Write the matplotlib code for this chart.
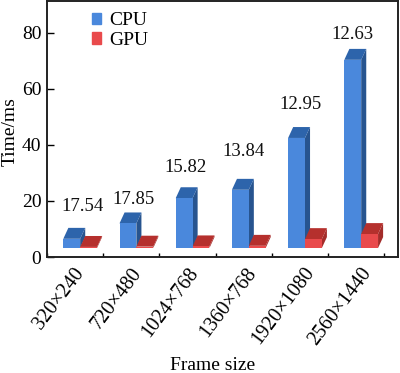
import matplotlib
matplotlib.use("Agg")
import matplotlib.pyplot as plt
from matplotlib.patches import Polygon, Patch

plt.rcParams['font.family'] = ['Liberation Serif', 'DejaVu Serif']

frames = ['320×240', '720×480', '1024×768', '1360×768', '1920×1080', '2560×1440']
cpu = [6.5, 12, 21, 24, 42.5, 70.4]
gpu = [3.6, 3.7, 3.8, 4.0, 6.4, 8.2]
ratios = ['17.54', '17.85', '15.82', '13.84', '12.95', '12.63']

# label places
label_y = [17.9, 20.4, 31.8, 37.5, 54.3, 79.3]
label_dx = [0.036, -0.057, -0.13, -0.10, -0.085, -0.16]

floor = 3.2
width = 0.3
dx = 0.09
dy = 3.9

def bar3d(ax, x, top, front, side, roof):
    l = x
    r = x + width
    ax.bar(l, top - floor, width, bottom=floor, align='edge', color=front, zorder=3)
    ax.add_patch(Polygon([(r, floor), (r + dx, floor + dy), (r + dx, top + dy), (r, top)],
                         closed=True, color=side, lw=0, zorder=2))
    ax.add_patch(Polygon([(l, top), (l + dx, top + dy), (r + dx, top + dy), (r, top)],
                         closed=True, color=roof, lw=0, zorder=2))

fig = plt.figure(figsize=(4, 3.73), dpi=100)
ax = fig.add_axes([47 / 400, 116 / 373, 351 / 400, 256 / 373])

for i in range(len(frames)):
    bar3d(ax, i + 0.09 - width, cpu[i], '#4a88dc', '#27548f', '#2d64ab')
    bar3d(ax, i + 0.09, gpu[i], '#e94a4c', '#a32c2a', '#b5302d')
    ax.text(i + 0.09 + label_dx[i], label_y[i], ratios[i], ha='center', va='center',
            fontsize=13.5, color='#111111', zorder=5)

ax.set_xlim(-0.5, 5.745)
ax.set_ylim(0, 91.4)
ax.set_yticks([0, 20, 40, 60, 80])
ax.set_xticks([i + 0.5 for i in range(-1, 6)])
ax.set_xticklabels([])
# rotated labels end a little right of each group
ax.set_xticks([i * 1.025 + 0.09 for i in range(6)], minor=True)
ax.set_xticklabels(frames, minor=True, rotation=53, ha='right', va='center', fontsize=14.5,
                   rotation_mode='anchor')
ax.tick_params(axis='x', which='major', direction='in', length=3, width=1)
ax.tick_params(axis='x', which='minor', length=0, pad=9)
ax.tick_params(axis='y', direction='in', length=5, width=1, labelsize=14, pad=4)
for s in ax.spines.values():
    s.set_linewidth(1.4)
    s.set_color('#222222')

ax.set_xlabel('Frame size', fontsize=14)
ax.xaxis.set_label_coords(0.473, -0.39)
ax.set_ylabel('Time/ms', fontsize=14)
ax.yaxis.set_label_coords(-0.082, 0.49)

ax.legend(handles=[Patch(color='#4a88dc', label='CPU'), Patch(color='#e94a4c', label='GPU')],
          loc='upper left', bbox_to_anchor=(0.128, 0.957), frameon=False, fontsize=14,
          borderpad=0, borderaxespad=0, handlelength=0.46, handleheight=0.51,
          handletextpad=0.41, labelspacing=0.15)

fig.savefig('out.png', dpi=100)
